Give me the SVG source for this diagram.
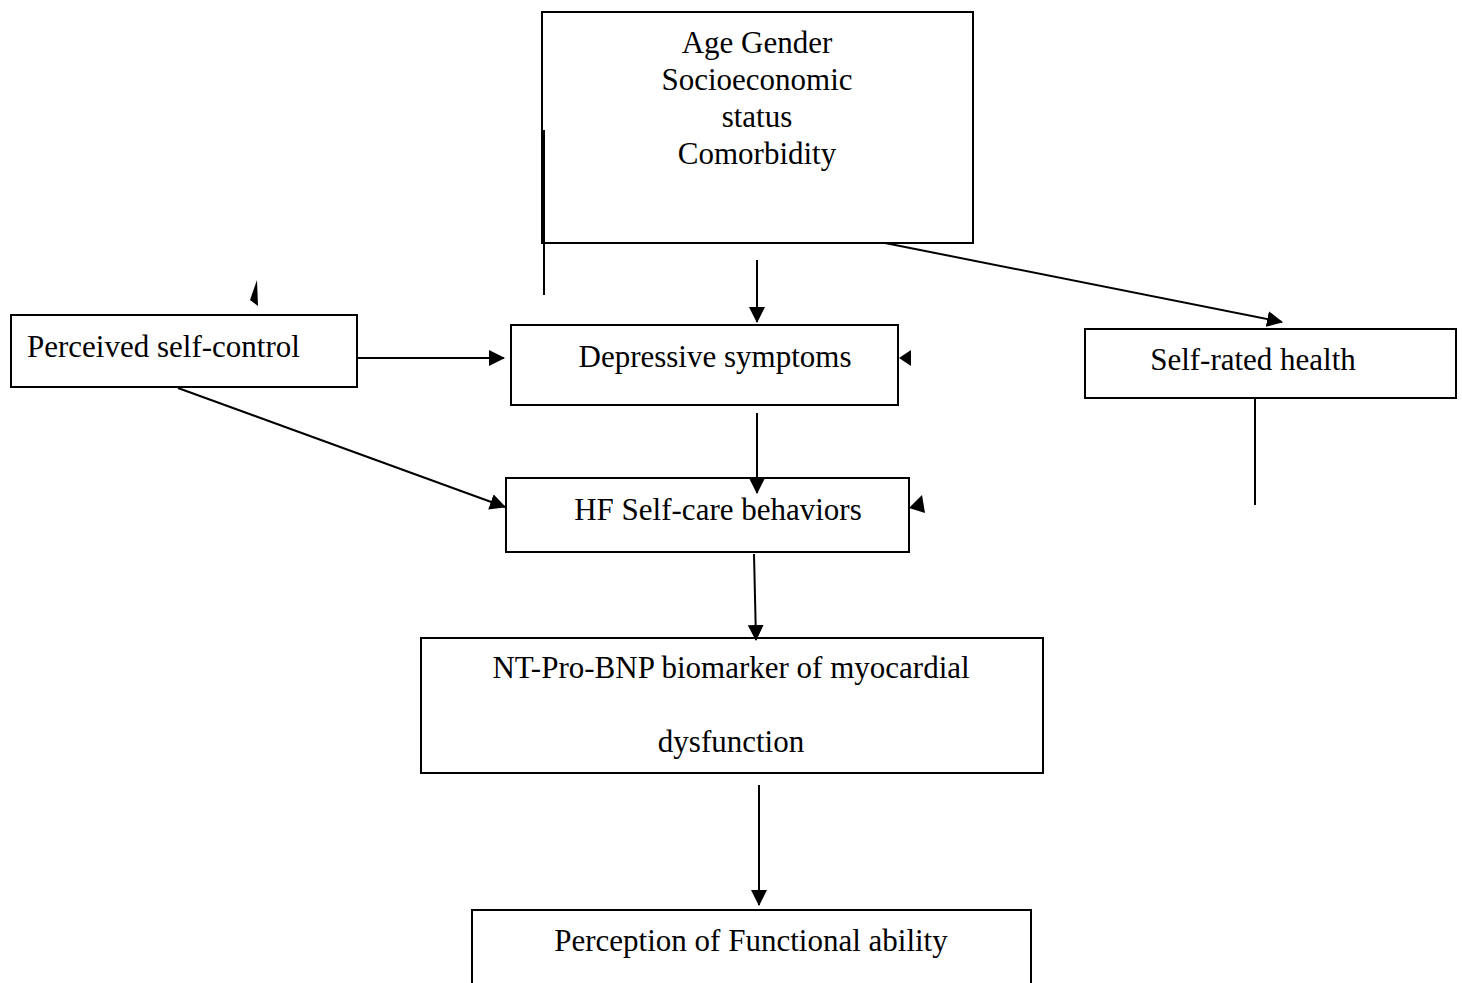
<svg xmlns="http://www.w3.org/2000/svg" width="1462" height="983" viewBox="0 0 1462 983">
<style>
.box{fill:none;stroke:#000;stroke-width:2}
.t{font-family:"Liberation Serif","Times New Roman",serif;font-size:31px;fill:#000}
.c{text-anchor:middle}
.ln{stroke:#000;stroke-width:2;fill:none}
.hd{fill:#000}
</style>
<defs>
<marker id="ah" markerUnits="userSpaceOnUse" markerWidth="16" markerHeight="16" refX="15" refY="8" orient="auto">
<path d="M0,0 L16,8 L0,16 Z" fill="#000"/>
</marker>
</defs>
<rect width="1462" height="983" fill="#fff"/>
<g id="node-factors">
<rect class="box" x="542" y="12" width="431" height="231"/>
<text class="t c" x="757" y="53">Age Gender</text>
<text class="t c" x="757" y="90">Socioeconomic</text>
<text class="t c" x="757" y="127">status</text>
<text class="t c" x="757" y="164">Comorbidity</text>
</g>
<g id="node-self-control">
<rect class="box" x="11" y="315" width="346" height="72"/>
<text class="t" x="27" y="357">Perceived self-control</text>
</g>
<g id="node-depressive">
<rect class="box" x="511" y="325" width="387" height="80"/>
<text class="t c" x="715" y="367">Depressive symptoms</text>
</g>
<g id="node-self-rated">
<rect class="box" x="1085" y="329" width="371" height="69"/>
<text class="t c" x="1253" y="370">Self-rated health</text>
</g>
<g id="node-selfcare">
<rect class="box" x="506" y="478" width="403" height="74"/>
<text class="t c" x="718" y="520">HF Self-care behaviors</text>
</g>
<g id="node-ntprobnp">
<rect class="box" x="421" y="638" width="622" height="135"/>
<text class="t c" x="731" y="678">NT-Pro-BNP biomarker of myocardial</text>
<text class="t c" x="731" y="752">dysfunction</text>
</g>
<g id="node-functional">
<path class="ln" d="M472,990 V910 H1031 V990"/>
<text class="t c" x="751" y="951">Perception of Functional ability</text>
</g>
<g id="connectors">
<line class="ln" x1="544" y1="130" x2="544" y2="295"/>
<line class="ln" x1="757" y1="260" x2="757" y2="322" marker-end="url(#ah)"/>
<line class="ln" x1="885" y1="243" x2="1282" y2="322" marker-end="url(#ah)"/>
<line class="ln" x1="357" y1="358" x2="504" y2="358" marker-end="url(#ah)"/>
<line class="ln" x1="178" y1="388" x2="505" y2="507" marker-end="url(#ah)"/>
<line class="ln" x1="757" y1="413" x2="757" y2="493" marker-end="url(#ah)"/>
<line class="ln" x1="754" y1="554" x2="756" y2="640" marker-end="url(#ah)"/>
<line class="ln" x1="759" y1="785" x2="759" y2="905" marker-end="url(#ah)"/>
<line class="ln" x1="1255" y1="398" x2="1255" y2="505"/>
<polygon class="hd" points="257,280 250,300 258,306"/>
<polygon class="hd" points="899,358 911,350 911,366"/>
<polygon class="hd" points="909,508 922,495 925,513"/>
</g>
</svg>
